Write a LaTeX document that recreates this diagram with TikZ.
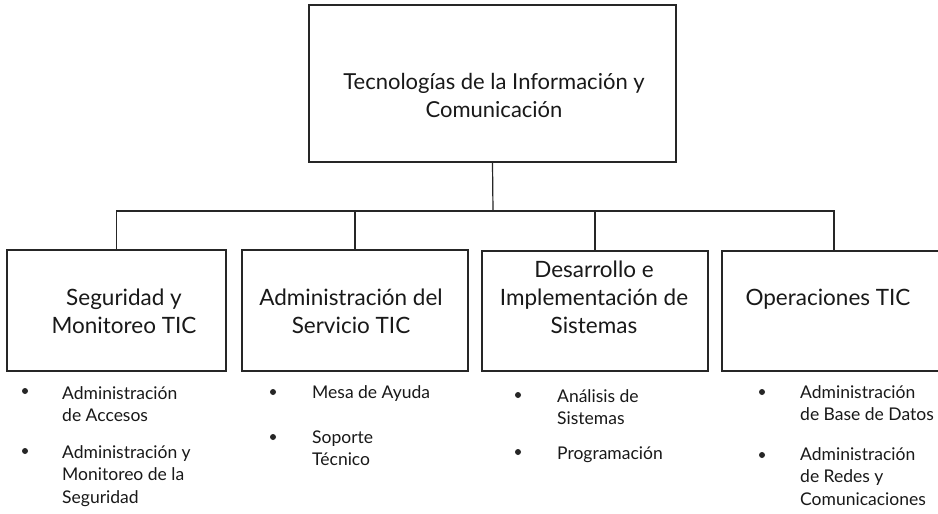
\documentclass[tikz,border=0pt]{standalone}
\usepackage{fontspec}
\setmainfont{Lato}
\begin{document}
\begin{tikzpicture}[x=1pt,y=-1pt,
  frame/.style={draw=black!85, line width=1.2pt, rectangle, inner sep=0pt},
  link/.style={draw=black!85, line width=1.2pt},
  ttl/.style={anchor=base, inner sep=0pt, text=black!90, font=\fontsize{22.5}{28}\selectfont},
  itm/.style={anchor=base west, inner sep=0pt, text=black!90, font=\fontsize{17.5}{22.5}\selectfont},
  bul/.style={circle, fill=black!85, inner sep=0pt, minimum size=6pt}]
\clip (0,0) rectangle (938,514);
\fill[white] (0,0) rectangle (938,514);

% boxes
\node[frame, minimum width=367pt, minimum height=157pt] (top) at (492.5,83.5) {};
\node[frame, minimum width=219pt, minimum height=121pt] (b1) at (116.5,310.5) {};
\node[frame, minimum width=226pt, minimum height=121pt] (b2) at (355,310.5) {};
\node[frame, minimum width=226pt, minimum height=120pt] (b3) at (595,311) {};
\node[frame, minimum width=224pt, minimum height=120pt] (b4) at (834,311) {};

% titles
\node[ttl, font=\fontsize{22}{28}\selectfont] (ttop) at (494,89) {\begin{tabular}[t]{@{}c@{}}Tecnologías de la Información y\\Comunicación\end{tabular}};
\node[ttl] (t1) at (124,305) {\begin{tabular}[t]{@{}c@{}}Seguridad y\\Monitoreo TIC\end{tabular}};
\node[ttl] (t2) at (351,305) {\begin{tabular}[t]{@{}c@{}}Administración del\\Servicio TIC\end{tabular}};
\node[ttl] (t3) at (594,277) {\begin{tabular}[t]{@{}c@{}}Desarrollo e\\Implementación de\\Sistemas\end{tabular}};
\node[ttl] (t4) at (828,305) {Operaciones TIC};

% connectors
\coordinate (bus) at (493,211);
\draw[link] (top.south) -- (bus);
\draw[link] (b1.north) -- (b1.north |- bus) -- (b4.north |- bus) -- (b4.north);
\draw[link] (b2.north) -- (b2.north |- bus);
\draw[link] (b3.north) -- (b3.north |- bus);

% column 1
\node[bul] (p1a) at (25,391) {};
\node[itm] (i1a) at (62,399) {\begin{tabular}[t]{@{}l@{}}Administración\\de Accesos\end{tabular}};
\node[bul] (p1b) at (25,451) {};
\node[itm] (i1b) at (62,458) {\begin{tabular}[t]{@{}l@{}}Administración y\\Monitoreo de la\\Seguridad\end{tabular}};
% column 2
\node[bul] (p2a) at (273,392) {};
\node[itm] (i2a) at (312,398) {Mesa de Ayuda};
\node[bul] (p2b) at (273,437) {};
\node[itm] (i2b) at (312,443) {\begin{tabular}[t]{@{}l@{}}Soporte\\Técnico\end{tabular}};
% column 3
\node[bul] (p3a) at (518,395) {};
\node[itm] (i3a) at (557,402) {\begin{tabular}[t]{@{}l@{}}Análisis de\\Sistemas\end{tabular}};
\node[bul] (p3b) at (518,452) {};
\node[itm] (i3b) at (557,459) {Programación};
% column 4
\node[bul] (p4a) at (762,392) {};
\node[itm] (i4a) at (800,398) {\begin{tabular}[t]{@{}l@{}}Administración\\de Base de Datos\end{tabular}};
\node[bul] (p4b) at (762,455) {};
\node[itm] (i4b) at (800,460) {\begin{tabular}[t]{@{}l@{}}Administración\\de Redes y\\Comunicaciones\end{tabular}};
\end{tikzpicture}
\end{document}
